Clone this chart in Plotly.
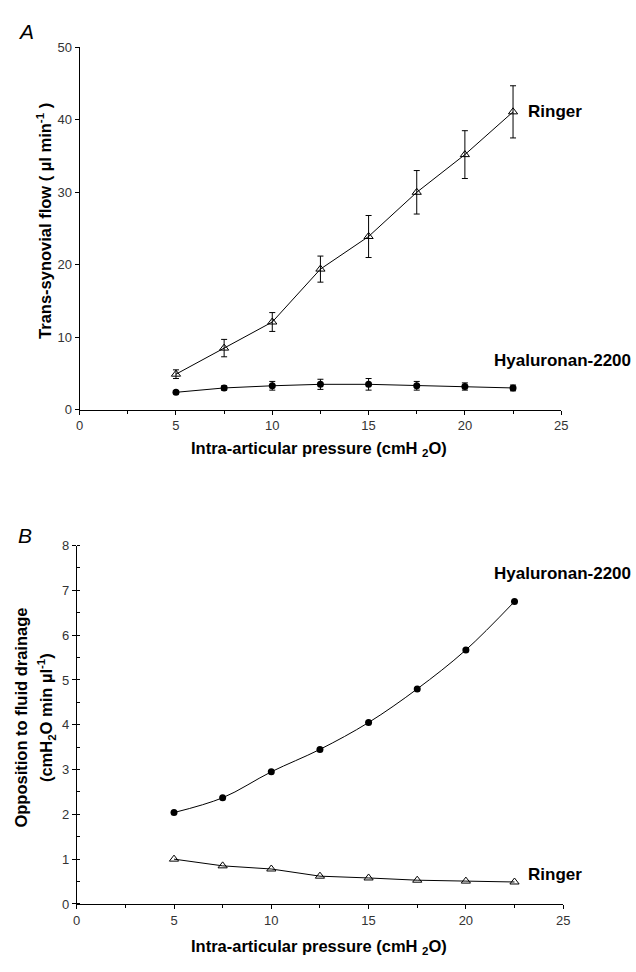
import plotly.graph_objects as go

pressure = [5, 7.5, 10, 12.5, 15, 17.5, 20, 22.5]

# Panel A: trans-synovial flow (µl/min)
flow_ringer = [4.9, 8.5, 12.1, 19.4, 23.9, 30.0, 35.2, 41.1]
flow_ringer_err = [0.6, 1.2, 1.3, 1.8, 2.9, 3.0, 3.3, 3.6]
flow_hyal = [2.4, 3.0, 3.3, 3.5, 3.5, 3.3, 3.2, 3.0]
flow_hyal_err = [0.2, 0.3, 0.6, 0.7, 0.8, 0.6, 0.5, 0.4]

# Panel B: opposition to fluid drainage
opp_hyal = [2.04, 2.37, 2.95, 3.45, 4.05, 4.8, 5.67, 6.75]
opp_ringer = [1.0, 0.85, 0.78, 0.62, 0.58, 0.53, 0.51, 0.49]

x_ticks = [0, 5, 10, 15, 20, 25]
yA_ticks = [0, 10, 20, 30, 40, 50]
yB_ticks = [0, 1, 2, 3, 4, 5, 6, 7, 8]

W, H = 636, 972
def px(x): return x / W
def py(y): return 1 - y / H

fig = go.Figure()

tri = dict(symbol="triangle-up-open", size=8, color="black", line=dict(width=1, color="black"))
dot = dict(symbol="circle", size=7, color="black")
ln = dict(color="black", width=1)

fig.add_trace(go.Scatter(x=pressure, y=flow_ringer, mode="lines+markers", marker=tri, line=ln,
                         error_y=dict(type="data", array=flow_ringer_err, color="black", thickness=1, width=3),
                         xaxis="x", yaxis="y", showlegend=False))
fig.add_trace(go.Scatter(x=pressure, y=flow_hyal, mode="lines+markers", marker=dot, line=ln,
                         error_y=dict(type="data", array=flow_hyal_err, color="black", thickness=1, width=3),
                         xaxis="x", yaxis="y", showlegend=False))
fig.add_trace(go.Scatter(x=pressure, y=opp_hyal, mode="lines+markers", marker=dot,
                         line=dict(color="black", width=1, shape="spline"),
                         xaxis="x2", yaxis="y2", showlegend=False))
fig.add_trace(go.Scatter(x=pressure, y=opp_ringer, mode="lines+markers", marker=tri, line=ln,
                         xaxis="x2", yaxis="y2", showlegend=False))

tickfont = dict(family="Liberation Sans, Arial", size=13, color="#333")
axis_common = dict(showgrid=False, zeroline=False, showline=True, linecolor="black", linewidth=1,
                   ticks="outside", ticklen=4, tickcolor="black", tickfont=tickfont)

fig.update_layout(
    width=W, height=H, margin=dict(l=0, r=0, t=0, b=0),
    plot_bgcolor="white", paper_bgcolor="white",
    xaxis=dict(domain=[px(77), px(567)], range=[0, 25], tickvals=x_ticks, anchor="y",
               minor=dict(dtick=2.5, ticks="outside", ticklen=3, tickcolor="black"), **axis_common),
    yaxis=dict(domain=[py(409), py(41)], range=[0, 50], tickvals=yA_ticks, anchor="x", **axis_common),
    xaxis2=dict(domain=[px(74), px(569)], range=[0, 25], tickvals=x_ticks, anchor="y2",
                minor=dict(dtick=2.5, ticks="outside", ticklen=3, tickcolor="black"), **axis_common),
    yaxis2=dict(domain=[py(911), py(547)], range=[0, 8], tickvals=yB_ticks, anchor="x2",
                minor=dict(dtick=0.5, ticks="inside", ticklen=3, tickcolor="black"), **axis_common),
)

bold = dict(family="Liberation Sans, Arial", size=16.5, color="black")
lab = dict(family="Liberation Sans, Arial", size=17, color="black")

annos = [
    dict(text="<i>A</i>", x=px(12), y=py(25), xanchor="left", yanchor="middle",
         font=dict(family="Liberation Sans, Arial", size=21, color="black")),
    dict(text="<i>B</i>", x=px(12), y=py(537), xanchor="left", yanchor="middle",
         font=dict(family="Liberation Sans, Arial", size=21, color="black")),
    dict(text="<b>Intra-articular pressure (cmH <sub>2</sub>O)</b>", x=px(321), y=py(449),
         xanchor="center", yanchor="middle", font=bold),
    dict(text="<b>Intra-articular pressure (cmH <sub>2</sub>O)</b>", x=px(321), y=py(955),
         xanchor="center", yanchor="middle", font=bold),
    dict(text="<b>Trans-synovial flow ( µl min<sup>-1</sup> )</b>", x=px(40), y=py(217),
         xanchor="center", yanchor="middle", textangle=-90, font=bold),
    dict(text="<b>Opposition to fluid drainage</b>",
         x=px(17), y=py(722), xanchor="center", yanchor="middle", textangle=-90, font=bold),
    dict(text="<b>(cmH<sub>2</sub>O min µl<sup>-1</sup>)</b>",
         x=px(43), y=py(722), xanchor="center", yanchor="middle", textangle=-90, font=bold),
    dict(text="<b>Ringer</b>", x=px(531), y=py(106), xanchor="left", yanchor="middle", font=lab),
    dict(text="<b>Hyaluronan-2200</b>", x=px(497), y=py(359), xanchor="left", yanchor="middle", font=lab),
    dict(text="<b>Hyaluronan-2200</b>", x=px(497), y=py(575), xanchor="left", yanchor="middle", font=lab),
    dict(text="<b>Ringer</b>", x=px(531), y=py(881), xanchor="left", yanchor="middle", font=lab),
]
for a in annos:
    a.update(xref="paper", yref="paper", showarrow=False)
fig.update_layout(annotations=annos)

fig.write_html("out.html")
